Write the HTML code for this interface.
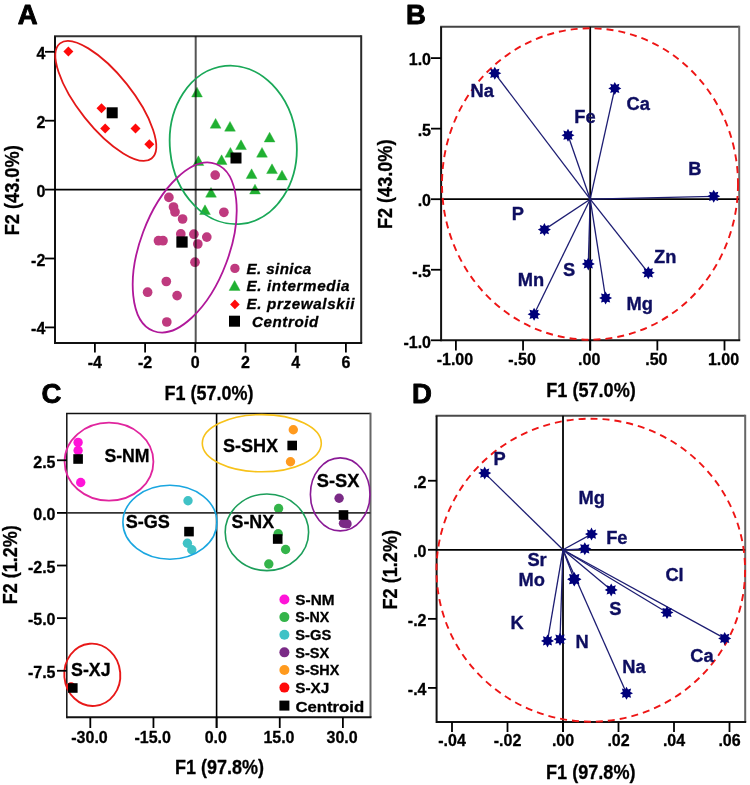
<!DOCTYPE html>
<html><head><meta charset="utf-8"><style>
html,body{margin:0;padding:0;background:#fff;}
svg{display:block;}
text{font-family:"Liberation Sans",sans-serif;}
</style></head><body>
<svg width="750" height="785" viewBox="0 0 750 785">
<rect width="750" height="785" fill="#fff"/>
<text x="17.8" y="23.5" font-size="27.5" font-weight="bold" text-anchor="start" fill="#000" stroke="#000" stroke-width="0.9" stroke-linejoin="round" >A</text>
<path d="M54.0 36.2 H361.2" stroke="#333" stroke-width="2.0" fill="none"/>
<path d="M361.2 35.2 V343" stroke="#2a2a2a" stroke-width="2.0" fill="none"/>
<path d="M55 36.2 V344.0" stroke="#111" stroke-width="2.0" fill="none"/>
<path d="M55 343 H362.2" stroke="#111" stroke-width="2.0" fill="none"/>
<polygon points="68.4,46.6 73.4,51.6 68.4,56.6 63.400000000000006,51.6" fill="#ff0a0a"/>
<polygon points="101.5,103.3 106.5,108.3 101.5,113.3 96.5,108.3" fill="#ff0a0a"/>
<polygon points="105.2,123.5 110.2,128.5 105.2,133.5 100.2,128.5" fill="#ff0a0a"/>
<polygon points="135.5,123.5 140.5,128.5 135.5,133.5 130.5,128.5" fill="#ff0a0a"/>
<polygon points="149.3,139.3 154.3,144.3 149.3,149.3 144.3,144.3" fill="#ff0a0a"/>
<polygon points="191.60,96.96 202.40,96.96 197.00,87.24" fill="#20b032" stroke="#20b032" stroke-width="0.4" stroke-linejoin="round"/>
<polygon points="210.20,128.16 221.00,128.16 215.60,118.44" fill="#20b032" stroke="#20b032" stroke-width="0.4" stroke-linejoin="round"/>
<polygon points="224.60,131.16 235.40,131.16 230.00,121.44" fill="#20b032" stroke="#20b032" stroke-width="0.4" stroke-linejoin="round"/>
<polygon points="264.20,141.96 275.00,141.96 269.60,132.24" fill="#20b032" stroke="#20b032" stroke-width="0.4" stroke-linejoin="round"/>
<polygon points="235.60,149.56 246.40,149.56 241.00,139.84" fill="#20b032" stroke="#20b032" stroke-width="0.4" stroke-linejoin="round"/>
<polygon points="256.60,157.16 267.40,157.16 262.00,147.44" fill="#20b032" stroke="#20b032" stroke-width="0.4" stroke-linejoin="round"/>
<polygon points="225.00,157.16 235.80,157.16 230.40,147.44" fill="#20b032" stroke="#20b032" stroke-width="0.4" stroke-linejoin="round"/>
<polygon points="216.20,164.56 227.00,164.56 221.60,154.84" fill="#20b032" stroke="#20b032" stroke-width="0.4" stroke-linejoin="round"/>
<polygon points="193.00,165.56 203.80,165.56 198.40,155.84" fill="#20b032" stroke="#20b032" stroke-width="0.4" stroke-linejoin="round"/>
<polygon points="266.60,173.56 277.40,173.56 272.00,163.84" fill="#20b032" stroke="#20b032" stroke-width="0.4" stroke-linejoin="round"/>
<polygon points="276.60,179.96 287.40,179.96 282.00,170.24" fill="#20b032" stroke="#20b032" stroke-width="0.4" stroke-linejoin="round"/>
<polygon points="246.20,178.56 257.00,178.56 251.60,168.84" fill="#20b032" stroke="#20b032" stroke-width="0.4" stroke-linejoin="round"/>
<polygon points="249.60,193.96 260.40,193.96 255.00,184.24" fill="#20b032" stroke="#20b032" stroke-width="0.4" stroke-linejoin="round"/>
<polygon points="205.60,197.16 216.40,197.16 211.00,187.44" fill="#20b032" stroke="#20b032" stroke-width="0.4" stroke-linejoin="round"/>
<polygon points="199.60,214.56 210.40,214.56 205.00,204.84" fill="#20b032" stroke="#20b032" stroke-width="0.4" stroke-linejoin="round"/>
<circle cx="215.2" cy="175.1" r="4.85" fill="#bf3a7f"/>
<circle cx="168.9" cy="197.4" r="4.85" fill="#bf3a7f"/>
<circle cx="173.5" cy="207" r="4.85" fill="#bf3a7f"/>
<circle cx="175" cy="212" r="4.85" fill="#bf3a7f"/>
<circle cx="182.6" cy="219" r="4.85" fill="#bf3a7f"/>
<circle cx="223.9" cy="212.3" r="4.85" fill="#bf3a7f"/>
<circle cx="180.8" cy="233.9" r="4.85" fill="#bf3a7f"/>
<circle cx="193.9" cy="234.2" r="4.85" fill="#bf3a7f"/>
<circle cx="206.8" cy="237.1" r="4.85" fill="#bf3a7f"/>
<circle cx="197.8" cy="244" r="4.85" fill="#bf3a7f"/>
<circle cx="158.5" cy="240.7" r="4.85" fill="#bf3a7f"/>
<circle cx="163" cy="240.7" r="4.85" fill="#bf3a7f"/>
<circle cx="195" cy="262.2" r="4.85" fill="#bf3a7f"/>
<circle cx="166.3" cy="281.5" r="4.85" fill="#bf3a7f"/>
<circle cx="147.6" cy="292.2" r="4.85" fill="#bf3a7f"/>
<circle cx="177.1" cy="295.6" r="4.85" fill="#bf3a7f"/>
<circle cx="166.8" cy="322" r="4.85" fill="#bf3a7f"/>
<line x1="195.7" y1="36.2" x2="195.7" y2="343" stroke="#555" stroke-width="2.0" style="mix-blend-mode:multiply"/>
<line x1="55" y1="189.6" x2="361.2" y2="189.6" stroke="#000" stroke-width="1.8" />
<ellipse cx="105.8" cy="100.9" rx="73.5" ry="26.9" transform="rotate(51.5 105.8 100.9)" fill="none" stroke="#e41818" stroke-width="1.8"/>
<ellipse cx="233.25" cy="144.9" rx="63.37" ry="79.45" transform="rotate(-5.8 233.25 144.9)" fill="none" stroke="#1aa858" stroke-width="1.8"/>
<ellipse cx="184.7" cy="247.5" rx="44.35" ry="89.14" transform="rotate(20.5 184.7 247.5)" fill="none" stroke="#b0189a" stroke-width="1.8"/>
<rect x="106.7" y="107.3" width="11" height="11" fill="#000"/>
<rect x="230.5" y="152.5" width="11" height="11" fill="#000"/>
<rect x="176.35" y="236.35" width="11.3" height="11.3" fill="#000"/>
<circle cx="234.9" cy="268.4" r="4.7" fill="#bf3a7f"/>
<polygon points="229.10,290.45 240.10,290.45 234.60,280.55" fill="#20b032" stroke="#20b032" stroke-width="0.4" stroke-linejoin="round"/>
<polygon points="234.9,299.59999999999997 239.70000000000002,304.4 234.9,309.2 230.1,304.4" fill="#ff0a0a"/>
<rect x="229.0" y="315.7" width="11" height="11" fill="#000"/>
<text x="246.5" y="273.7" font-size="15.2" font-weight="bold" text-anchor="start" fill="#000" font-style="italic" textLength="64.7" lengthAdjust="spacing" stroke="#000" stroke-width="0.3" stroke-linejoin="round" >E. sinica</text>
<text x="246.5" y="291.4" font-size="15.2" font-weight="bold" text-anchor="start" fill="#000" font-style="italic" textLength="103" lengthAdjust="spacing" stroke="#000" stroke-width="0.3" stroke-linejoin="round" >E. intermedia</text>
<text x="246.5" y="309.1" font-size="15.2" font-weight="bold" text-anchor="start" fill="#000" font-style="italic" textLength="108" lengthAdjust="spacing" stroke="#000" stroke-width="0.3" stroke-linejoin="round" >E. przewalskii</text>
<text x="252" y="326.8" font-size="15.2" font-weight="bold" text-anchor="start" fill="#000" font-style="italic" textLength="66.3" lengthAdjust="spacing" stroke="#000" stroke-width="0.3" stroke-linejoin="round" >Centroid</text>
<line x1="94.9" y1="343" x2="94.9" y2="352.5" stroke="#000" stroke-width="1.8" />
<text x="94.9" y="368.2" font-size="16" font-weight="bold" text-anchor="middle" fill="#000" stroke="#000" stroke-width="0.3" stroke-linejoin="round" >-4</text>
<line x1="145.10000000000002" y1="343" x2="145.10000000000002" y2="352.5" stroke="#000" stroke-width="1.8" />
<text x="145.10000000000002" y="368.2" font-size="16" font-weight="bold" text-anchor="middle" fill="#000" stroke="#000" stroke-width="0.3" stroke-linejoin="round" >-2</text>
<line x1="195.3" y1="343" x2="195.3" y2="352.5" stroke="#000" stroke-width="1.8" />
<text x="195.3" y="368.2" font-size="16" font-weight="bold" text-anchor="middle" fill="#000" stroke="#000" stroke-width="0.3" stroke-linejoin="round" >0</text>
<line x1="245.5" y1="343" x2="245.5" y2="352.5" stroke="#000" stroke-width="1.8" />
<text x="245.5" y="368.2" font-size="16" font-weight="bold" text-anchor="middle" fill="#000" stroke="#000" stroke-width="0.3" stroke-linejoin="round" >2</text>
<line x1="295.70000000000005" y1="343" x2="295.70000000000005" y2="352.5" stroke="#000" stroke-width="1.8" />
<text x="295.70000000000005" y="368.2" font-size="16" font-weight="bold" text-anchor="middle" fill="#000" stroke="#000" stroke-width="0.3" stroke-linejoin="round" >4</text>
<line x1="345.90000000000003" y1="343" x2="345.90000000000003" y2="352.5" stroke="#000" stroke-width="1.8" />
<text x="345.90000000000003" y="368.2" font-size="16" font-weight="bold" text-anchor="middle" fill="#000" stroke="#000" stroke-width="0.3" stroke-linejoin="round" >6</text>
<line x1="45" y1="51.79999999999998" x2="55" y2="51.79999999999998" stroke="#000" stroke-width="1.8" />
<text x="45.3" y="58.79999999999998" font-size="16" font-weight="bold" text-anchor="end" fill="#000" stroke="#000" stroke-width="0.3" stroke-linejoin="round" >4</text>
<line x1="45" y1="120.69999999999999" x2="55" y2="120.69999999999999" stroke="#000" stroke-width="1.8" />
<text x="45.3" y="127.69999999999999" font-size="16" font-weight="bold" text-anchor="end" fill="#000" stroke="#000" stroke-width="0.3" stroke-linejoin="round" >2</text>
<line x1="45" y1="189.6" x2="55" y2="189.6" stroke="#000" stroke-width="1.8" />
<text x="45.3" y="196.6" font-size="16" font-weight="bold" text-anchor="end" fill="#000" stroke="#000" stroke-width="0.3" stroke-linejoin="round" >0</text>
<line x1="45" y1="258.5" x2="55" y2="258.5" stroke="#000" stroke-width="1.8" />
<text x="45.3" y="265.5" font-size="16" font-weight="bold" text-anchor="end" fill="#000" stroke="#000" stroke-width="0.3" stroke-linejoin="round" >-2</text>
<line x1="45" y1="327.4" x2="55" y2="327.4" stroke="#000" stroke-width="1.8" />
<text x="45.3" y="334.4" font-size="16" font-weight="bold" text-anchor="end" fill="#000" stroke="#000" stroke-width="0.3" stroke-linejoin="round" >-4</text>
<text x="0" y="0" font-size="20" font-weight="bold" text-anchor="middle" fill="#000" textLength="90" lengthAdjust="spacingAndGlyphs" stroke="#000" stroke-width="0.3" transform="translate(12.2 190.3) rotate(-90)" dominant-baseline="central">F2 (43.0%)</text>
<text x="164.5" y="399.7" font-size="20" font-weight="bold" text-anchor="start" fill="#000" textLength="89" lengthAdjust="spacingAndGlyphs" stroke="#000" stroke-width="0.3" stroke-linejoin="round" >F1 (57.0%)</text>
<text x="406" y="24" font-size="27.5" font-weight="bold" text-anchor="start" fill="#000" stroke="#000" stroke-width="0.9" stroke-linejoin="round" >B</text>
<path d="M440.1 26.7 H739.2" stroke="#444" stroke-width="2.0" fill="none"/>
<path d="M739.2 25.7 V340.3" stroke="#6a6a6a" stroke-width="2.0" fill="none"/>
<path d="M441.1 26.7 V341.3" stroke="#111" stroke-width="2.0" fill="none"/>
<path d="M441.1 340.3 H740.2" stroke="#111" stroke-width="2.0" fill="none"/>
<line x1="590.2" y1="26.7" x2="590.2" y2="350.5" stroke="#000" stroke-width="1.8" />
<line x1="441.1" y1="199.2" x2="739.2" y2="199.2" stroke="#000" stroke-width="1.8" />
<ellipse cx="590" cy="184" rx="148" ry="155.7" transform="rotate(0 590 184)" fill="none" stroke="#ee1515" stroke-width="1.9" stroke-dasharray="7 5"/>
<line x1="590.2" y1="199.2" x2="494.8" y2="73.3" stroke="#1d1d72" stroke-width="1.3" />
<line x1="590.2" y1="199.2" x2="614.8" y2="88.4" stroke="#1d1d72" stroke-width="1.3" />
<line x1="590.2" y1="199.2" x2="568" y2="135.2" stroke="#1d1d72" stroke-width="1.3" />
<line x1="590.2" y1="199.2" x2="713.7" y2="196.3" stroke="#1d1d72" stroke-width="1.3" />
<line x1="590.2" y1="199.2" x2="544.4" y2="229.6" stroke="#1d1d72" stroke-width="1.3" />
<line x1="590.2" y1="199.2" x2="648.3" y2="272.8" stroke="#1d1d72" stroke-width="1.3" />
<line x1="590.2" y1="199.2" x2="588.3" y2="263.9" stroke="#1d1d72" stroke-width="1.3" />
<line x1="590.2" y1="199.2" x2="605.6" y2="298" stroke="#1d1d72" stroke-width="1.3" />
<line x1="590.2" y1="199.2" x2="534.1" y2="314.3" stroke="#1d1d72" stroke-width="1.3" />
<polygon points="494.80,66.80 496.33,69.60 499.40,68.70 498.50,71.77 501.30,73.30 498.50,74.83 499.40,77.90 496.33,77.00 494.80,79.80 493.27,77.00 490.20,77.90 491.10,74.83 488.30,73.30 491.10,71.77 490.20,68.70 493.27,69.60" fill="#00007a"/>
<polygon points="614.80,81.90 616.33,84.70 619.40,83.80 618.50,86.87 621.30,88.40 618.50,89.93 619.40,93.00 616.33,92.10 614.80,94.90 613.27,92.10 610.20,93.00 611.10,89.93 608.30,88.40 611.10,86.87 610.20,83.80 613.27,84.70" fill="#00007a"/>
<polygon points="568.00,128.70 569.53,131.50 572.60,130.60 571.70,133.67 574.50,135.20 571.70,136.73 572.60,139.80 569.53,138.90 568.00,141.70 566.47,138.90 563.40,139.80 564.30,136.73 561.50,135.20 564.30,133.67 563.40,130.60 566.47,131.50" fill="#00007a"/>
<polygon points="713.70,189.80 715.23,192.60 718.30,191.70 717.40,194.77 720.20,196.30 717.40,197.83 718.30,200.90 715.23,200.00 713.70,202.80 712.17,200.00 709.10,200.90 710.00,197.83 707.20,196.30 710.00,194.77 709.10,191.70 712.17,192.60" fill="#00007a"/>
<polygon points="544.40,223.10 545.93,225.90 549.00,225.00 548.10,228.07 550.90,229.60 548.10,231.13 549.00,234.20 545.93,233.30 544.40,236.10 542.87,233.30 539.80,234.20 540.70,231.13 537.90,229.60 540.70,228.07 539.80,225.00 542.87,225.90" fill="#00007a"/>
<polygon points="648.30,266.30 649.83,269.10 652.90,268.20 652.00,271.27 654.80,272.80 652.00,274.33 652.90,277.40 649.83,276.50 648.30,279.30 646.77,276.50 643.70,277.40 644.60,274.33 641.80,272.80 644.60,271.27 643.70,268.20 646.77,269.10" fill="#00007a"/>
<polygon points="588.30,257.40 589.83,260.20 592.90,259.30 592.00,262.37 594.80,263.90 592.00,265.43 592.90,268.50 589.83,267.60 588.30,270.40 586.77,267.60 583.70,268.50 584.60,265.43 581.80,263.90 584.60,262.37 583.70,259.30 586.77,260.20" fill="#00007a"/>
<polygon points="605.60,291.50 607.13,294.30 610.20,293.40 609.30,296.47 612.10,298.00 609.30,299.53 610.20,302.60 607.13,301.70 605.60,304.50 604.07,301.70 601.00,302.60 601.90,299.53 599.10,298.00 601.90,296.47 601.00,293.40 604.07,294.30" fill="#00007a"/>
<polygon points="534.10,307.80 535.63,310.60 538.70,309.70 537.80,312.77 540.60,314.30 537.80,315.83 538.70,318.90 535.63,318.00 534.10,320.80 532.57,318.00 529.50,318.90 530.40,315.83 527.60,314.30 530.40,312.77 529.50,309.70 532.57,310.60" fill="#00007a"/>
<text x="470.6" y="97" font-size="18.3" font-weight="bold" text-anchor="start" fill="#0e0e60" stroke="#0e0e60" stroke-width="0.35" stroke-linejoin="round" >Na</text>
<text x="626.6" y="110.3" font-size="18.3" font-weight="bold" text-anchor="start" fill="#0e0e60" stroke="#0e0e60" stroke-width="0.35" stroke-linejoin="round" >Ca</text>
<text x="574.3000000000001" y="123.2" font-size="18.3" font-weight="bold" text-anchor="start" fill="#0e0e60" stroke="#0e0e60" stroke-width="0.35" stroke-linejoin="round" >Fe</text>
<text x="688.2" y="175.3" font-size="18.3" font-weight="bold" text-anchor="start" fill="#0e0e60" stroke="#0e0e60" stroke-width="0.35" stroke-linejoin="round" >B</text>
<text x="511.80000000000007" y="220" font-size="18.3" font-weight="bold" text-anchor="start" fill="#0e0e60" stroke="#0e0e60" stroke-width="0.35" stroke-linejoin="round" >P</text>
<text x="654.1" y="262.5" font-size="18.3" font-weight="bold" text-anchor="start" fill="#0e0e60" stroke="#0e0e60" stroke-width="0.35" stroke-linejoin="round" >Zn</text>
<text x="562.9" y="276.4" font-size="18.3" font-weight="bold" text-anchor="start" fill="#0e0e60" stroke="#0e0e60" stroke-width="0.35" stroke-linejoin="round" >S</text>
<text x="626.5" y="310" font-size="18.3" font-weight="bold" text-anchor="start" fill="#0e0e60" stroke="#0e0e60" stroke-width="0.35" stroke-linejoin="round" >Mg</text>
<text x="517.8000000000001" y="285.5" font-size="18.3" font-weight="bold" text-anchor="start" fill="#0e0e60" stroke="#0e0e60" stroke-width="0.35" stroke-linejoin="round" >Mn</text>
<line x1="455.90000000000003" y1="340.3" x2="455.90000000000003" y2="350.5" stroke="#000" stroke-width="1.8" />
<text x="454.90000000000003" y="364.8" font-size="16" font-weight="bold" text-anchor="middle" fill="#000" stroke="#000" stroke-width="0.3" stroke-linejoin="round" >-1.00</text>
<line x1="523.0500000000001" y1="340.3" x2="523.0500000000001" y2="350.5" stroke="#000" stroke-width="1.8" />
<text x="522.0500000000001" y="364.8" font-size="16" font-weight="bold" text-anchor="middle" fill="#000" stroke="#000" stroke-width="0.3" stroke-linejoin="round" >-.50</text>
<line x1="590.2" y1="340.3" x2="590.2" y2="350.5" stroke="#000" stroke-width="1.8" />
<text x="589.2" y="364.8" font-size="16" font-weight="bold" text-anchor="middle" fill="#000" stroke="#000" stroke-width="0.3" stroke-linejoin="round" >.00</text>
<line x1="657.35" y1="340.3" x2="657.35" y2="350.5" stroke="#000" stroke-width="1.8" />
<text x="656.35" y="364.8" font-size="16" font-weight="bold" text-anchor="middle" fill="#000" stroke="#000" stroke-width="0.3" stroke-linejoin="round" >.50</text>
<line x1="724.5" y1="340.3" x2="724.5" y2="350.5" stroke="#000" stroke-width="1.8" />
<text x="723.5" y="364.8" font-size="16" font-weight="bold" text-anchor="middle" fill="#000" stroke="#000" stroke-width="0.3" stroke-linejoin="round" >1.00</text>
<line x1="431" y1="58.099999999999994" x2="441.1" y2="58.099999999999994" stroke="#000" stroke-width="1.8" />
<text x="431" y="65.3" font-size="16" font-weight="bold" text-anchor="end" fill="#000" stroke="#000" stroke-width="0.3" stroke-linejoin="round" >1.0</text>
<line x1="431" y1="128.64999999999998" x2="441.1" y2="128.64999999999998" stroke="#000" stroke-width="1.8" />
<text x="431" y="135.84999999999997" font-size="16" font-weight="bold" text-anchor="end" fill="#000" stroke="#000" stroke-width="0.3" stroke-linejoin="round" >.5</text>
<line x1="431" y1="199.2" x2="441.1" y2="199.2" stroke="#000" stroke-width="1.8" />
<text x="431" y="206.39999999999998" font-size="16" font-weight="bold" text-anchor="end" fill="#000" stroke="#000" stroke-width="0.3" stroke-linejoin="round" >.0</text>
<line x1="431" y1="269.75" x2="441.1" y2="269.75" stroke="#000" stroke-width="1.8" />
<text x="431" y="276.95" font-size="16" font-weight="bold" text-anchor="end" fill="#000" stroke="#000" stroke-width="0.3" stroke-linejoin="round" >-.5</text>
<line x1="431" y1="340.29999999999995" x2="441.1" y2="340.29999999999995" stroke="#000" stroke-width="1.8" />
<text x="431" y="347.49999999999994" font-size="16" font-weight="bold" text-anchor="end" fill="#000" stroke="#000" stroke-width="0.3" stroke-linejoin="round" >-1.0</text>
<text x="0" y="0" font-size="20" font-weight="bold" text-anchor="middle" fill="#000" textLength="89.5" lengthAdjust="spacingAndGlyphs" stroke="#000" stroke-width="0.3" transform="translate(385.2 184.3) rotate(-90)" dominant-baseline="central">F2 (43.0%)</text>
<text x="546.3" y="396.6" font-size="20" font-weight="bold" text-anchor="start" fill="#000" textLength="89.5" lengthAdjust="spacingAndGlyphs" stroke="#000" stroke-width="0.3" stroke-linejoin="round" >F1 (57.0%)</text>
<text x="41.5" y="402.5" font-size="27.5" font-weight="bold" text-anchor="start" fill="#000" stroke="#000" stroke-width="0.9" stroke-linejoin="round" >C</text>
<path d="M66.05 413.5 H370.5" stroke="#111" stroke-width="1.6" fill="none"/>
<path d="M370.5 412.7 V717.2" stroke="#666" stroke-width="2.0" fill="none"/>
<path d="M66.8 413.5 V718.2" stroke="#111" stroke-width="1.5" fill="none"/>
<path d="M66.8 717.2 H371.5" stroke="#111" stroke-width="2.0" fill="none"/>
<circle cx="78.1" cy="442.4" r="4.7" fill="#ff14d8"/>
<circle cx="78.1" cy="450.5" r="4.7" fill="#ff14d8"/>
<circle cx="80.7" cy="482.5" r="4.7" fill="#ff14d8"/>
<circle cx="188" cy="500.7" r="4.7" fill="#40c2c6"/>
<circle cx="187.4" cy="543.3" r="4.7" fill="#40c2c6"/>
<circle cx="191.8" cy="549.7" r="4.7" fill="#40c2c6"/>
<circle cx="293.3" cy="429.8" r="4.7" fill="#ff9a1e"/>
<circle cx="290.5" cy="461.8" r="4.7" fill="#ff9a1e"/>
<circle cx="339.1" cy="498.2" r="4.7" fill="#7a2a86"/>
<circle cx="343.5" cy="523.2" r="4.7" fill="#7a2a86"/>
<circle cx="347" cy="523.9" r="4.7" fill="#7a2a86"/>
<circle cx="278.6" cy="508.5" r="4.7" fill="#34b44a"/>
<circle cx="278.2" cy="533.7" r="4.7" fill="#34b44a"/>
<circle cx="285.6" cy="549.5" r="4.7" fill="#34b44a"/>
<circle cx="268.8" cy="564" r="4.7" fill="#34b44a"/>
<circle cx="71" cy="687" r="4.7" fill="#ff0a0a"/>
<line x1="216.6" y1="413.5" x2="216.6" y2="728" stroke="#000" stroke-width="1.6" />
<line x1="66.8" y1="512.9" x2="370.5" y2="512.9" stroke="#333" stroke-width="1.8" />
<ellipse cx="109" cy="461.7" rx="44.4" ry="39" transform="rotate(0 109 461.7)" fill="none" stroke="#e0259e" stroke-width="1.8"/>
<ellipse cx="169.9" cy="522.2" rx="47" ry="37" transform="rotate(0 169.9 522.2)" fill="none" stroke="#1aa6e0" stroke-width="1.6"/>
<ellipse cx="261.8" cy="443.2" rx="59.5" ry="28.6" transform="rotate(0 261.8 443.2)" fill="none" stroke="#f7c21a" stroke-width="1.6"/>
<ellipse cx="340.2" cy="494.4" rx="29.8" ry="36.5" transform="rotate(0 340.2 494.4)" fill="none" stroke="#8a1a96" stroke-width="1.6"/>
<ellipse cx="266.9" cy="532.3" rx="41.7" ry="38.3" transform="rotate(0 266.9 532.3)" fill="none" stroke="#1c9e5a" stroke-width="1.6"/>
<ellipse cx="92.3" cy="674.8" rx="28" ry="31.2" transform="rotate(-5 92.3 674.8)" fill="none" stroke="#e81818" stroke-width="1.9"/>
<rect x="73.3" y="454.2" width="9.6" height="9.6" fill="#000"/>
<rect x="184.2" y="526.8000000000001" width="9.6" height="9.6" fill="#000"/>
<rect x="287.4" y="440.7" width="9.6" height="9.6" fill="#000"/>
<rect x="338.7" y="510.2" width="9.6" height="9.6" fill="#000"/>
<rect x="272.9" y="534.2" width="9.6" height="9.6" fill="#000"/>
<rect x="68.0" y="683.2" width="9.6" height="9.6" fill="#000"/>
<text x="104.4" y="461.8" font-size="19" font-weight="bold" text-anchor="start" fill="#000" textLength="45.2" lengthAdjust="spacingAndGlyphs" stroke="#000" stroke-width="0.3" stroke-linejoin="round" >S-NM</text>
<text x="125.7" y="528.4" font-size="19" font-weight="bold" text-anchor="start" fill="#000" textLength="44.2" lengthAdjust="spacingAndGlyphs" stroke="#000" stroke-width="0.3" stroke-linejoin="round" >S-GS</text>
<text x="222.9" y="452" font-size="19" font-weight="bold" text-anchor="start" fill="#000" textLength="55.3" lengthAdjust="spacingAndGlyphs" stroke="#000" stroke-width="0.3" stroke-linejoin="round" >S-SHX</text>
<text x="316.7" y="487" font-size="19" font-weight="bold" text-anchor="start" fill="#000" textLength="42.7" lengthAdjust="spacingAndGlyphs" stroke="#000" stroke-width="0.3" stroke-linejoin="round" >S-SX</text>
<text x="231.5" y="527.8" font-size="19" font-weight="bold" text-anchor="start" fill="#000" textLength="42.7" lengthAdjust="spacingAndGlyphs" stroke="#000" stroke-width="0.3" stroke-linejoin="round" >S-NX</text>
<text x="71" y="676" font-size="19" font-weight="bold" text-anchor="start" fill="#000" textLength="39.6" lengthAdjust="spacingAndGlyphs" stroke="#000" stroke-width="0.3" stroke-linejoin="round" >S-XJ</text>
<circle cx="284.4" cy="599.5" r="5" fill="#ff14d8"/>
<text x="295.3" y="604.8" font-size="14.5" font-weight="bold" text-anchor="start" fill="#000" textLength="39.2" lengthAdjust="spacingAndGlyphs" stroke="#000" stroke-width="0.3" stroke-linejoin="round" >S-NM</text>
<circle cx="284.4" cy="617.12" r="5" fill="#34b44a"/>
<text x="295.3" y="622.42" font-size="14.5" font-weight="bold" text-anchor="start" fill="#000" textLength="34" lengthAdjust="spacingAndGlyphs" stroke="#000" stroke-width="0.3" stroke-linejoin="round" >S-NX</text>
<circle cx="284.4" cy="634.74" r="5" fill="#40c2c6"/>
<text x="295.3" y="640.04" font-size="14.5" font-weight="bold" text-anchor="start" fill="#000" textLength="36" lengthAdjust="spacingAndGlyphs" stroke="#000" stroke-width="0.3" stroke-linejoin="round" >S-GS</text>
<circle cx="284.4" cy="652.36" r="5" fill="#7a2a86"/>
<text x="295.3" y="657.66" font-size="14.5" font-weight="bold" text-anchor="start" fill="#000" textLength="34" lengthAdjust="spacingAndGlyphs" stroke="#000" stroke-width="0.3" stroke-linejoin="round" >S-SX</text>
<circle cx="284.4" cy="669.98" r="5" fill="#ff9a1e"/>
<text x="295.3" y="675.28" font-size="14.5" font-weight="bold" text-anchor="start" fill="#000" textLength="44" lengthAdjust="spacingAndGlyphs" stroke="#000" stroke-width="0.3" stroke-linejoin="round" >S-SHX</text>
<circle cx="284.4" cy="687.6" r="5" fill="#ff0a0a"/>
<text x="295.3" y="692.9" font-size="14.5" font-weight="bold" text-anchor="start" fill="#000" textLength="34" lengthAdjust="spacingAndGlyphs" stroke="#000" stroke-width="0.3" stroke-linejoin="round" >S-XJ</text>
<rect x="279.4" y="700.6" width="10" height="10" fill="#000"/>
<text x="295.4" y="711.8" font-size="14.5" font-weight="bold" text-anchor="start" fill="#000" textLength="68.8" lengthAdjust="spacingAndGlyphs" stroke="#000" stroke-width="0.3" stroke-linejoin="round" >Centroid</text>
<line x1="90.3" y1="717.2" x2="90.3" y2="728" stroke="#000" stroke-width="1.8" />
<text x="89.5" y="743" font-size="16" font-weight="bold" text-anchor="middle" fill="#000" stroke="#000" stroke-width="0.3" stroke-linejoin="round" >-30.0</text>
<line x1="153.45" y1="717.2" x2="153.45" y2="728" stroke="#000" stroke-width="1.8" />
<text x="152.64999999999998" y="743" font-size="16" font-weight="bold" text-anchor="middle" fill="#000" stroke="#000" stroke-width="0.3" stroke-linejoin="round" >-15.0</text>
<line x1="216.6" y1="717.2" x2="216.6" y2="728" stroke="#000" stroke-width="1.8" />
<text x="215.79999999999998" y="743" font-size="16" font-weight="bold" text-anchor="middle" fill="#000" stroke="#000" stroke-width="0.3" stroke-linejoin="round" >0.0</text>
<line x1="279.75" y1="717.2" x2="279.75" y2="728" stroke="#000" stroke-width="1.8" />
<text x="278.95" y="743" font-size="16" font-weight="bold" text-anchor="middle" fill="#000" stroke="#000" stroke-width="0.3" stroke-linejoin="round" >15.0</text>
<line x1="342.9" y1="717.2" x2="342.9" y2="728" stroke="#000" stroke-width="1.8" />
<text x="342.09999999999997" y="743" font-size="16" font-weight="bold" text-anchor="middle" fill="#000" stroke="#000" stroke-width="0.3" stroke-linejoin="round" >30.0</text>
<line x1="57" y1="460.275" x2="66.8" y2="460.275" stroke="#000" stroke-width="1.8" />
<text x="55.5" y="467.575" font-size="16" font-weight="bold" text-anchor="end" fill="#000" stroke="#000" stroke-width="0.3" stroke-linejoin="round" >2.5</text>
<line x1="57" y1="512.9" x2="66.8" y2="512.9" stroke="#000" stroke-width="1.8" />
<text x="55.5" y="520.1999999999999" font-size="16" font-weight="bold" text-anchor="end" fill="#000" stroke="#000" stroke-width="0.3" stroke-linejoin="round" >0.0</text>
<line x1="57" y1="565.525" x2="66.8" y2="565.525" stroke="#000" stroke-width="1.8" />
<text x="55.5" y="572.8249999999999" font-size="16" font-weight="bold" text-anchor="end" fill="#000" stroke="#000" stroke-width="0.3" stroke-linejoin="round" >-2.5</text>
<line x1="57" y1="618.15" x2="66.8" y2="618.15" stroke="#000" stroke-width="1.8" />
<text x="55.5" y="625.4499999999999" font-size="16" font-weight="bold" text-anchor="end" fill="#000" stroke="#000" stroke-width="0.3" stroke-linejoin="round" >-5.0</text>
<line x1="57" y1="670.775" x2="66.8" y2="670.775" stroke="#000" stroke-width="1.8" />
<text x="55.5" y="678.0749999999999" font-size="16" font-weight="bold" text-anchor="end" fill="#000" stroke="#000" stroke-width="0.3" stroke-linejoin="round" >-7.5</text>
<text x="0" y="0" font-size="20" font-weight="bold" text-anchor="middle" fill="#000" textLength="79" lengthAdjust="spacingAndGlyphs" stroke="#000" stroke-width="0.3" transform="translate(10.3 564.8) rotate(-90)" dominant-baseline="central">F2 (1.2%)</text>
<text x="175" y="774.2" font-size="20" font-weight="bold" text-anchor="start" fill="#000" textLength="89" lengthAdjust="spacingAndGlyphs" stroke="#000" stroke-width="0.3" stroke-linejoin="round" >F1 (97.8%)</text>
<text x="412" y="402.7" font-size="27.5" font-weight="bold" text-anchor="start" fill="#000" stroke="#000" stroke-width="0.9" stroke-linejoin="round" >D</text>
<path d="M435.6 415.8 H745.2" stroke="#4a4a4a" stroke-width="2.0" fill="none"/>
<path d="M745.2 414.8 V722" stroke="#666" stroke-width="2.0" fill="none"/>
<path d="M436.6 415.8 V723.0" stroke="#111" stroke-width="2.0" fill="none"/>
<path d="M436.6 722 H746.2" stroke="#111" stroke-width="2.0" fill="none"/>
<line x1="563" y1="415.8" x2="563" y2="732" stroke="#000" stroke-width="1.8" />
<line x1="436.6" y1="549.8" x2="745.2" y2="549.8" stroke="#000" stroke-width="1.8" />
<ellipse cx="590.8" cy="570.2" rx="154.3" ry="151.5" transform="rotate(0 590.8 570.2)" fill="none" stroke="#ee1515" stroke-width="1.9" stroke-dasharray="7 5"/>
<line x1="563" y1="549.8" x2="484.7" y2="473.1" stroke="#1d1d72" stroke-width="1.3" />
<line x1="563" y1="549.8" x2="591.5" y2="534.1" stroke="#1d1d72" stroke-width="1.3" />
<line x1="563" y1="549.8" x2="584.8" y2="548.8" stroke="#1d1d72" stroke-width="1.3" />
<line x1="563" y1="549.8" x2="574.1" y2="579.2" stroke="#1d1d72" stroke-width="1.3" />
<line x1="563" y1="549.8" x2="611.2" y2="589.9" stroke="#1d1d72" stroke-width="1.3" />
<line x1="563" y1="549.8" x2="667" y2="612.5" stroke="#1d1d72" stroke-width="1.3" />
<line x1="563" y1="549.8" x2="724.7" y2="638.4" stroke="#1d1d72" stroke-width="1.3" />
<line x1="563" y1="549.8" x2="547.5" y2="640.9" stroke="#1d1d72" stroke-width="1.3" />
<line x1="563" y1="549.8" x2="560" y2="639.2" stroke="#1d1d72" stroke-width="1.3" />
<line x1="563" y1="549.8" x2="626.5" y2="693.2" stroke="#1d1d72" stroke-width="1.3" />
<polygon points="484.70,466.60 486.23,469.40 489.30,468.50 488.40,471.57 491.20,473.10 488.40,474.63 489.30,477.70 486.23,476.80 484.70,479.60 483.17,476.80 480.10,477.70 481.00,474.63 478.20,473.10 481.00,471.57 480.10,468.50 483.17,469.40" fill="#00007a"/>
<polygon points="591.50,527.60 593.03,530.40 596.10,529.50 595.20,532.57 598.00,534.10 595.20,535.63 596.10,538.70 593.03,537.80 591.50,540.60 589.97,537.80 586.90,538.70 587.80,535.63 585.00,534.10 587.80,532.57 586.90,529.50 589.97,530.40" fill="#00007a"/>
<polygon points="584.80,542.30 586.33,545.10 589.40,544.20 588.50,547.27 591.30,548.80 588.50,550.33 589.40,553.40 586.33,552.50 584.80,555.30 583.27,552.50 580.20,553.40 581.10,550.33 578.30,548.80 581.10,547.27 580.20,544.20 583.27,545.10" fill="#00007a"/>
<polygon points="574.10,572.70 575.63,575.50 578.70,574.60 577.80,577.67 580.60,579.20 577.80,580.73 578.70,583.80 575.63,582.90 574.10,585.70 572.57,582.90 569.50,583.80 570.40,580.73 567.60,579.20 570.40,577.67 569.50,574.60 572.57,575.50" fill="#00007a"/>
<polygon points="611.20,583.40 612.73,586.20 615.80,585.30 614.90,588.37 617.70,589.90 614.90,591.43 615.80,594.50 612.73,593.60 611.20,596.40 609.67,593.60 606.60,594.50 607.50,591.43 604.70,589.90 607.50,588.37 606.60,585.30 609.67,586.20" fill="#00007a"/>
<polygon points="667.00,606.00 668.53,608.80 671.60,607.90 670.70,610.97 673.50,612.50 670.70,614.03 671.60,617.10 668.53,616.20 667.00,619.00 665.47,616.20 662.40,617.10 663.30,614.03 660.50,612.50 663.30,610.97 662.40,607.90 665.47,608.80" fill="#00007a"/>
<polygon points="724.70,631.90 726.23,634.70 729.30,633.80 728.40,636.87 731.20,638.40 728.40,639.93 729.30,643.00 726.23,642.10 724.70,644.90 723.17,642.10 720.10,643.00 721.00,639.93 718.20,638.40 721.00,636.87 720.10,633.80 723.17,634.70" fill="#00007a"/>
<polygon points="547.50,634.40 549.03,637.20 552.10,636.30 551.20,639.37 554.00,640.90 551.20,642.43 552.10,645.50 549.03,644.60 547.50,647.40 545.97,644.60 542.90,645.50 543.80,642.43 541.00,640.90 543.80,639.37 542.90,636.30 545.97,637.20" fill="#00007a"/>
<polygon points="560.00,632.70 561.53,635.50 564.60,634.60 563.70,637.67 566.50,639.20 563.70,640.73 564.60,643.80 561.53,642.90 560.00,645.70 558.47,642.90 555.40,643.80 556.30,640.73 553.50,639.20 556.30,637.67 555.40,634.60 558.47,635.50" fill="#00007a"/>
<polygon points="626.50,686.70 628.03,689.50 631.10,688.60 630.20,691.67 633.00,693.20 630.20,694.73 631.10,697.80 628.03,696.90 626.50,699.70 624.97,696.90 621.90,697.80 622.80,694.73 620.00,693.20 622.80,691.67 621.90,688.60 624.97,689.50" fill="#00007a"/>
<polygon points="574.30,572.00 576.06,574.95 579.39,574.11 578.55,577.44 581.50,579.20 578.55,580.96 579.39,584.29 576.06,583.45 574.30,586.40 572.54,583.45 569.21,584.29 570.05,580.96 567.10,579.20 570.05,577.44 569.21,574.11 572.54,574.95" fill="#00007a"/>
<text x="493.40000000000003" y="464.5" font-size="18.3" font-weight="bold" text-anchor="start" fill="#0e0e60" stroke="#0e0e60" stroke-width="0.35" stroke-linejoin="round" >P</text>
<text x="578.6" y="503.6" font-size="18.3" font-weight="bold" text-anchor="start" fill="#0e0e60" stroke="#0e0e60" stroke-width="0.35" stroke-linejoin="round" >Mg</text>
<text x="606.2" y="544.4" font-size="18.3" font-weight="bold" text-anchor="start" fill="#0e0e60" stroke="#0e0e60" stroke-width="0.35" stroke-linejoin="round" >Fe</text>
<text x="527.4" y="565.9" font-size="18.3" font-weight="bold" text-anchor="start" fill="#0e0e60" stroke="#0e0e60" stroke-width="0.35" stroke-linejoin="round" >Sr</text>
<text x="518.6" y="586.1" font-size="18.3" font-weight="bold" text-anchor="start" fill="#0e0e60" stroke="#0e0e60" stroke-width="0.35" stroke-linejoin="round" >Mo</text>
<text x="609.2" y="615" font-size="18.3" font-weight="bold" text-anchor="start" fill="#0e0e60" stroke="#0e0e60" stroke-width="0.35" stroke-linejoin="round" >S</text>
<text x="665.4" y="580.5" font-size="18.3" font-weight="bold" text-anchor="start" fill="#0e0e60" stroke="#0e0e60" stroke-width="0.35" stroke-linejoin="round" >Cl</text>
<text x="510.6" y="629.1" font-size="18.3" font-weight="bold" text-anchor="start" fill="#0e0e60" stroke="#0e0e60" stroke-width="0.35" stroke-linejoin="round" >K</text>
<text x="575.4" y="648.3" font-size="18.3" font-weight="bold" text-anchor="start" fill="#0e0e60" stroke="#0e0e60" stroke-width="0.35" stroke-linejoin="round" >N</text>
<text x="622.2" y="672.8" font-size="18.3" font-weight="bold" text-anchor="start" fill="#0e0e60" stroke="#0e0e60" stroke-width="0.35" stroke-linejoin="round" >Na</text>
<text x="690.2" y="662.4" font-size="18.3" font-weight="bold" text-anchor="start" fill="#0e0e60" stroke="#0e0e60" stroke-width="0.35" stroke-linejoin="round" >Ca</text>
<line x1="452.0" y1="722" x2="452.0" y2="732" stroke="#000" stroke-width="1.8" />
<text x="452.0" y="746.3" font-size="16" font-weight="bold" text-anchor="middle" fill="#000" stroke="#000" stroke-width="0.3" stroke-linejoin="round" >-.04</text>
<line x1="507.5" y1="722" x2="507.5" y2="732" stroke="#000" stroke-width="1.8" />
<text x="507.5" y="746.3" font-size="16" font-weight="bold" text-anchor="middle" fill="#000" stroke="#000" stroke-width="0.3" stroke-linejoin="round" >-.02</text>
<line x1="563" y1="722" x2="563" y2="732" stroke="#000" stroke-width="1.8" />
<text x="563" y="746.3" font-size="16" font-weight="bold" text-anchor="middle" fill="#000" stroke="#000" stroke-width="0.3" stroke-linejoin="round" >.00</text>
<line x1="618.5" y1="722" x2="618.5" y2="732" stroke="#000" stroke-width="1.8" />
<text x="618.5" y="746.3" font-size="16" font-weight="bold" text-anchor="middle" fill="#000" stroke="#000" stroke-width="0.3" stroke-linejoin="round" >.02</text>
<line x1="674.0" y1="722" x2="674.0" y2="732" stroke="#000" stroke-width="1.8" />
<text x="674.0" y="746.3" font-size="16" font-weight="bold" text-anchor="middle" fill="#000" stroke="#000" stroke-width="0.3" stroke-linejoin="round" >.04</text>
<line x1="729.5" y1="722" x2="729.5" y2="732" stroke="#000" stroke-width="1.8" />
<text x="729.5" y="746.3" font-size="16" font-weight="bold" text-anchor="middle" fill="#000" stroke="#000" stroke-width="0.3" stroke-linejoin="round" >.06</text>
<line x1="428" y1="480.73999999999995" x2="436.6" y2="480.73999999999995" stroke="#000" stroke-width="1.8" />
<text x="426.5" y="488.03999999999996" font-size="16" font-weight="bold" text-anchor="end" fill="#000" stroke="#000" stroke-width="0.3" stroke-linejoin="round" >.2</text>
<line x1="428" y1="549.8" x2="436.6" y2="549.8" stroke="#000" stroke-width="1.8" />
<text x="426.5" y="557.0999999999999" font-size="16" font-weight="bold" text-anchor="end" fill="#000" stroke="#000" stroke-width="0.3" stroke-linejoin="round" >.0</text>
<line x1="428" y1="618.8599999999999" x2="436.6" y2="618.8599999999999" stroke="#000" stroke-width="1.8" />
<text x="426.5" y="626.1599999999999" font-size="16" font-weight="bold" text-anchor="end" fill="#000" stroke="#000" stroke-width="0.3" stroke-linejoin="round" >-.2</text>
<line x1="428" y1="687.92" x2="436.6" y2="687.92" stroke="#000" stroke-width="1.8" />
<text x="426.5" y="695.2199999999999" font-size="16" font-weight="bold" text-anchor="end" fill="#000" stroke="#000" stroke-width="0.3" stroke-linejoin="round" >-.4</text>
<text x="0" y="0" font-size="20" font-weight="bold" text-anchor="middle" fill="#000" textLength="79.5" lengthAdjust="spacingAndGlyphs" stroke="#000" stroke-width="0.3" transform="translate(389.5 569.7) rotate(-90)" dominant-baseline="central">F2 (1.2%)</text>
<text x="546" y="778.5" font-size="20" font-weight="bold" text-anchor="start" fill="#000" textLength="89.5" lengthAdjust="spacingAndGlyphs" stroke="#000" stroke-width="0.3" stroke-linejoin="round" >F1 (97.8%)</text>
</svg>
</body></html>
